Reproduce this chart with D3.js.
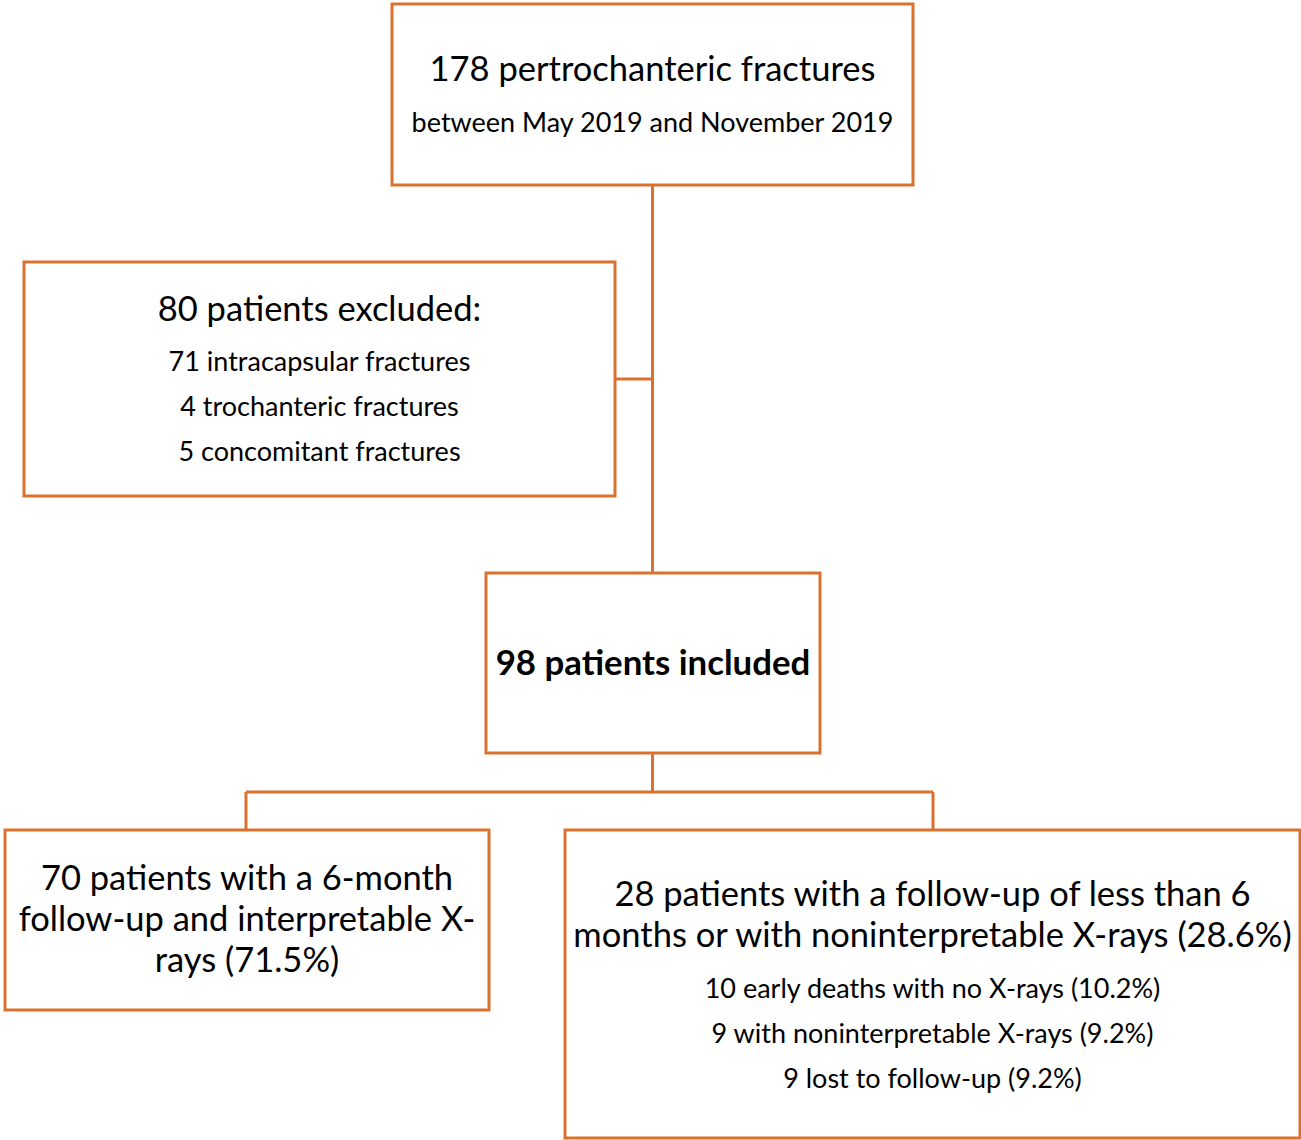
<!DOCTYPE html>
<html>
<head>
<meta charset="utf-8">
<script src="https://cdn.jsdelivr.net/npm/d3@7"></script>
<style>
  body { margin: 0; background: #fff; }
  svg { display: block; }
</style>
</head>
<body>
<svg id="chart"></svg>
<script>
// flowchart texts
const topLines = ["178 pertrochanteric fractures", "between May 2019 and November 2019"];
const excludedLines = ["80 patients excluded:", "71 intracapsular fractures", "4 trochanteric fractures", "5 concomitant fractures"];
const includedLines = ["98 patients included"];
const followLines = ["70 patients with a 6-month", "follow-up and interpretable X-", "rays (71.5%)"];
const lostLines = ["28 patients with a follow-up of less than 6", "months or with noninterpretable X-rays (28.6%)",
  "10 early deaths with no X-rays (10.2%)", "9 with noninterpretable X-rays (9.2%)", "9 lost to follow-up (9.2%)"];

const width = 1301, height = 1140;
const orange = "#D9722E";
const font = "Lato, 'Open Sans', sans-serif";
const big = 34.5, small = 27;

const svg = d3.select("#chart").attr("width", width).attr("height", height);

// box layout: x0, y0, x1, y1 and text rows (baseline y, size, weight)
const boxes = [
  { id: "top", x0: 392, y0: 4, x1: 913, y1: 185, lines: topLines,
    rows: [[81, big, 400], [132, small, 400]] },
  { id: "excl", x0: 24, y0: 262, x1: 615, y1: 496, lines: excludedLines,
    rows: [[321, big, 400], [371, small, 400], [416, small, 400], [461, small, 400]] },
  { id: "incl", x0: 486, y0: 573, x1: 820, y1: 753, lines: includedLines,
    rows: [[675, 34.8, 700]] },
  { id: "follow", x0: 5, y0: 830, x1: 489, y1: 1010, lines: followLines,
    rows: [[890, big, 400], [931, big, 400], [972, big, 400]] },
  { id: "lost", x0: 565, y0: 830, x1: 1300, y1: 1138, lines: lostLines,
    rows: [[906, big, 400], [947, big, 400], [998, small, 400], [1043, small, 400], [1088, small, 400]] }
];
const byId = Object.fromEntries(boxes.map(b => [b.id, b]));
const cx = b => (b.x0 + b.x1) / 2;

// connectors
const mainX = cx(byId.top);
const splitY = 792;
const connectors = [
  [[mainX, byId.top.y1], [mainX, byId.incl.y0]],
  [[byId.excl.x1, (byId.excl.y0 + byId.excl.y1) / 2], [mainX, (byId.excl.y0 + byId.excl.y1) / 2]],
  [[mainX, byId.incl.y1], [mainX, splitY]],
  [[246, splitY], [933, splitY]],
  [[246, splitY], [246, byId.follow.y0]],
  [[933, splitY], [933, byId.lost.y0]]
];

svg.selectAll("path.link")
  .data(connectors)
  .join("path")
  .attr("class", "link")
  .attr("d", d3.line())
  .attr("fill", "none")
  .attr("stroke", orange)
  .attr("stroke-width", 3);

const g = svg.selectAll("g.box")
  .data(boxes)
  .join("g")
  .attr("class", "box");

g.append("rect")
  .attr("x", d => d.x0)
  .attr("y", d => d.y0)
  .attr("width", d => d.x1 - d.x0)
  .attr("height", d => d.y1 - d.y0)
  .attr("fill", "#fff")
  .attr("stroke", orange)
  .attr("stroke-width", 3);

g.each(function(b) {
  d3.select(this).selectAll("text")
    .data(b.lines.map((t, i) => ({ t, row: b.rows[i] })))
    .join("text")
    .attr("x", cx(b))
    .attr("y", d => d.row[0])
    .attr("text-anchor", "middle")
    .attr("font-family", font)
    .attr("font-size", d => d.row[1])
    .attr("font-weight", d => d.row[2])
    .attr("fill", "#000")
    .text(d => d.t);
});
</script>
</body>
</html>
